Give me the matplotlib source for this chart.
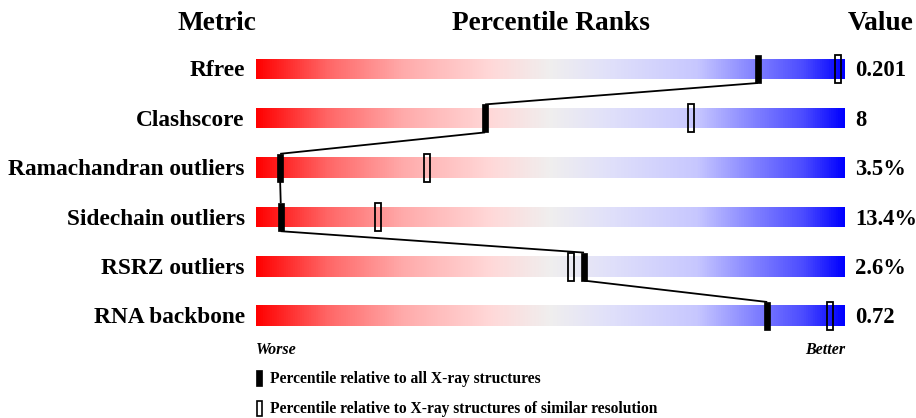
import numpy as np
import matplotlib
matplotlib.use('Agg')
import matplotlib.pyplot as plt
from matplotlib.colors import LinearSegmentedColormap

# data
metrics = ['Rfree', 'Clashscore', 'Ramachandran outliers', 'Sidechain outliers',
           'RSRZ outliers', 'RNA backbone']
values = ['0.201', '8', '3.5%', '13.4%', '2.6%', '0.72']
pct_all = [85.2, 38.9, 4.1, 4.2, 55.7, 86.8]      # percentile vs all X-ray structures
pct_res = [98.8, 73.9, 29.0, 20.7, 53.5, 97.5]    # percentile vs similar resolution

plt.rcParams['font.family'] = ['Liberation Serif', 'DejaVu Serif']
plt.rcParams['font.weight'] = 'bold'

W, H = 916, 418
fig = plt.figure(figsize=(W / 100, H / 100), dpi=100)

# axes: x = percentile (0..100), y = row index
row_px = 49.4
top_px = 69 - row_px / 2
bot_px = 316 + row_px / 2
ax = fig.add_axes([256 / W, 1 - bot_px / H, 589 / W, (bot_px - top_px) / H])

cmap = LinearSegmentedColormap.from_list('pct', [
    (0.00, (1.0, 0.0, 0.0)),
    (0.12, (1.0, 0.40, 0.40)),
    (0.25, (1.0, 0.67, 0.67)),
    (0.40, (1.0, 0.85, 0.85)),
    (0.50, (0.94, 0.935, 0.935)),
    (0.60, (0.88, 0.88, 0.98)),
    (0.75, (0.78, 0.78, 1.0)),
    (0.85, (0.50, 0.50, 1.0)),
    (0.93, (0.30, 0.30, 1.0)),
    (1.00, (0.0, 0.0, 1.0)),
])
grad = np.linspace(0, 1, 512).reshape(1, -1)

bar_h = 20 / row_px
mk_h = 28 / row_px
mk_w = 1.0

for i, m in enumerate(metrics):
    ax.imshow(grad, cmap=cmap, aspect='auto',
              extent=(0, 100, i + bar_h / 2, i - bar_h / 2), zorder=1)
    ax.text(-1.9, i + 0.04, m, ha='right', va='center', fontsize=16.8, clip_on=False)
    ax.text(1.7 + 100, i + 0.04, values[i], ha='left', va='center', fontsize=16.3,
            clip_on=False)
    # open marker: similar resolution
    ax.add_patch(plt.Rectangle((pct_res[i] - mk_w / 2, i - mk_h / 2), mk_w, mk_h,
                               facecolor='none', edgecolor='black', lw=1.3, zorder=3,
                               clip_on=False))
    # filled marker: all X-ray structures
    ax.add_patch(plt.Rectangle((pct_all[i] - mk_w / 2, i - mk_h / 2), mk_w, mk_h,
                               facecolor='black', edgecolor='black', lw=0.5, zorder=4,
                               clip_on=False))

# connecting line between filled markers (bottom of one to top of next)
for i in range(len(metrics) - 1):
    ax.plot([pct_all[i], pct_all[i + 1]], [i + mk_h / 2, i + 1 - mk_h / 2],
            color='black', lw=1.3, zorder=2, solid_capstyle='butt')

ax.set_xlim(0, 100)
ax.set_ylim(len(metrics) - 0.5, -0.5)
ax.axis('off')

# headers
fig.text(217 / W, 1 - 24 / H, 'Metric', ha='center', va='center', fontsize=19.7)
fig.text(551 / W, 1 - 24 / H, 'Percentile Ranks', ha='center', va='center', fontsize=19.7)
fig.text(881 / W, 1 - 24 / H, 'Value', ha='center', va='center', fontsize=19.7)

# worse / better
fig.text(256 / W, 1 - 350 / H, 'Worse', ha='left', va='center', fontsize=11.5, style='italic')
fig.text(845 / W, 1 - 350 / H, 'Better', ha='right', va='center', fontsize=11.5, style='italic')

# legend
fig.patches.append(plt.Rectangle((256 / W, 1 - 386 / H), 6 / W, 16 / H,
                                 transform=fig.transFigure, facecolor='black',
                                 edgecolor='black', lw=0.5))
fig.text(270 / W, 1 - 379 / H, 'Percentile relative to all X-ray structures',
         ha='left', va='center', fontsize=11.2)
fig.patches.append(plt.Rectangle((257 / W, 1 - 416 / H), 5 / W, 15 / H,
                                 transform=fig.transFigure, facecolor='none',
                                 edgecolor='black', lw=1.2))
fig.text(270 / W, 1 - 409 / H, 'Percentile relative to X-ray structures of similar resolution',
         ha='left', va='center', fontsize=11.2)

fig.savefig('out.png', dpi=100)
